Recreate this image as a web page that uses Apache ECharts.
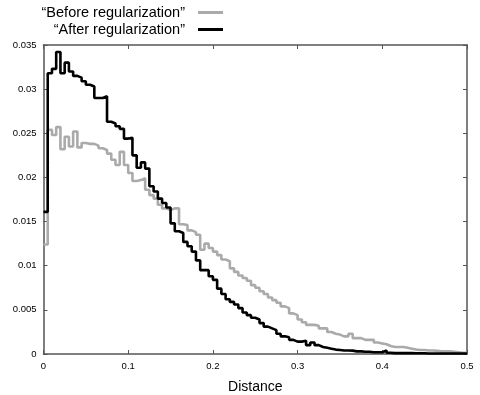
<!DOCTYPE html>
<html>
<head>
<meta charset="utf-8">
<script src="https://cdn.jsdelivr.net/npm/echarts@6/dist/echarts.min.js"></script>
<style>html,body{margin:0;padding:0;background:#fff}#c{width:480px;height:395px}</style>
</head>
<body>
<div id="c"></div>
<script>
// Histogram bin width (x-axis units); bin i starts at i * BIN_WIDTH
const BIN_WIDTH = 0.005;
const seriesNames = ['\u201cBefore regularization\u201d', '\u201cAfter regularization\u201d'];
const xTicks = [0, 0.1, 0.2, 0.3, 0.4, 0.5];
const yTicks = [0, 0.005, 0.01, 0.015, 0.02, 0.025, 0.03, 0.035];

const beforeValues = [
  0.0124, 0.0254, 0.0248, 0.0257, 0.0232, 0.0246, 0.0235, 0.0252, 0.0234, 0.0239,
  0.0238, 0.0238, 0.0236, 0.0233, 0.0231, 0.0227, 0.0220, 0.0214, 0.0229, 0.0214,
  0.0205, 0.0196, 0.0197, 0.0199, 0.0186, 0.0180, 0.0176, 0.0169, 0.0165, 0.0163,
  0.0165, 0.0165, 0.0147, 0.0146, 0.0140, 0.0138, 0.0135, 0.0118, 0.0125, 0.0120,
  0.0116, 0.0112, 0.0107, 0.0105, 0.0097, 0.0093, 0.0089, 0.0086, 0.0083, 0.0078,
  0.0075, 0.0071, 0.0068, 0.0064, 0.0061, 0.0058, 0.0054, 0.0052, 0.0046, 0.0044,
  0.0039, 0.0036, 0.0033, 0.0033, 0.0032, 0.0029, 0.0029, 0.0025, 0.0023, 0.0022,
  0.0020, 0.0020, 0.0023, 0.0018, 0.0018, 0.0016, 0.0016, 0.0016, 0.0013, 0.0012,
  0.0011, 0.0009, 0.0008, 0.0008, 0.0008, 0.0007, 0.0006, 0.0005, 0.00045, 0.00045,
  0.0004, 0.0004, 0.00035, 0.0003, 0.0003, 0.0003, 0.00025, 0.0002, 0.00015, 0.00015
];
const afterValues = [
  0.0161, 0.0318, 0.0323, 0.0342, 0.0318, 0.0330, 0.0320, 0.0315, 0.0313, 0.0309,
  0.0305, 0.0303, 0.0290, 0.0290, 0.0292, 0.0263, 0.0261, 0.0258, 0.0255, 0.0244,
  0.0245, 0.0225, 0.0211, 0.0217, 0.0210, 0.0190, 0.0184, 0.0176, 0.0171, 0.0166,
  0.0148, 0.0139, 0.0137, 0.0127, 0.0122, 0.0116, 0.0106, 0.0095, 0.0095, 0.0088,
  0.0084, 0.0074, 0.0068, 0.0062, 0.0059, 0.0056, 0.0052, 0.0047, 0.0044, 0.0041,
  0.0039, 0.0035, 0.0031, 0.0029, 0.0027, 0.0023, 0.0020, 0.0019, 0.0016, 0.0014,
  0.0014, 0.0015, 0.0010, 0.0013, 0.0010, 0.0008, 0.0007, 0.0006, 0.0005, 0.00045,
  0.0004, 0.0004, 0.00038, 0.0003, 0.0003, 0.00026, 0.00025, 0.0002, 0.0002, 0.0002,
  0.0004, 0.00015, 0.0001, 0.0001, 0.0001, 0.0001, 0.0001, 0.00008, 0.00008, 0.00008,
  0.00006, 0.00006, 0.00006, 0.00005, 0.00005, 0.00005, 0.00005, 0.00005, 0.00005, 0.00005
];

function toSteps(vals) {
  const pts = vals.map((v, i) => [+(i * BIN_WIDTH).toFixed(4), v]);
  pts.push([+(vals.length * BIN_WIDTH).toFixed(4), vals[vals.length - 1]]);
  return pts;
}

const FONT = 'Liberation Sans';
const axisColor = '#555';
const chart = echarts.init(document.getElementById('c'), null, {renderer: 'canvas'});

const xBase = {
  type: 'value', min: xTicks[0], max: xTicks[xTicks.length - 1], interval: 0.1,
  axisLine: {show: true, onZero: false, lineStyle: {color: axisColor, width: 1.5}},
  axisTick: {show: true, inside: true, length: 4, lineStyle: {color: axisColor}},
  splitLine: {show: false}
};
const yBase = {
  type: 'value', min: yTicks[0], max: yTicks[yTicks.length - 1], interval: 0.005,
  axisLine: {show: true, onZero: false, lineStyle: {color: axisColor, width: 1.5}},
  axisTick: {show: true, inside: true, length: 4, lineStyle: {color: axisColor}},
  splitLine: {show: false}
};

const legendBase = {
  orient: 'vertical', align: 'right', padding: 0,
  itemWidth: 25, itemHeight: 10, itemGap: 4,
  textStyle: {fontFamily: FONT, fontSize: 14.5, color: '#000', padding: [0, 8, 0, 0]},
  icon: 'path://M0,3.5L25,3.5L25,6.5L0,6.5Z'
};

chart.setOption({
  animation: false,
  backgroundColor: '#fff',
  textStyle: {fontFamily: FONT},
  legend: [
    Object.assign({}, legendBase, {data: [seriesNames[0]], right: 257, top: 5}),
    Object.assign({}, legendBase, {data: [seriesNames[1]], right: 257, top: 22})
  ],
  grid: {left: 43.5, right: 13, top: 45, bottom: 41, containLabel: false, outerBoundsMode: 'none'},
  xAxis: [
    Object.assign({}, xBase, {
      position: 'bottom',
      name: 'Distance', nameLocation: 'middle', nameGap: 26,
      nameTextStyle: {fontFamily: FONT, fontSize: 14, color: '#000'},
      axisLabel: {fontFamily: FONT, fontSize: 9.5, color: '#000', margin: 7}
    }),
    Object.assign({}, xBase, {position: 'top', axisLabel: {show: false}})
  ],
  yAxis: [
    Object.assign({}, yBase, {
      position: 'left',
      axisLabel: {fontFamily: FONT, fontSize: 9.5, color: '#000', margin: 7}
    }),
    Object.assign({}, yBase, {position: 'right', axisLabel: {show: false}})
  ],
  series: [
    {
      name: seriesNames[0], type: 'line', step: 'end', showSymbol: false, symbol: 'none',
      data: toSteps(beforeValues), xAxisIndex: 0, yAxisIndex: 0,
      lineStyle: {color: '#aaaaaa', width: 2.6}, itemStyle: {color: '#aaaaaa'}
    },
    {
      name: seriesNames[1], type: 'line', step: 'end', showSymbol: false, symbol: 'none',
      data: toSteps(afterValues), xAxisIndex: 0, yAxisIndex: 0,
      lineStyle: {color: '#000000', width: 2.6}, itemStyle: {color: '#000000'}
    }
  ]
});
</script>
</body>
</html>
